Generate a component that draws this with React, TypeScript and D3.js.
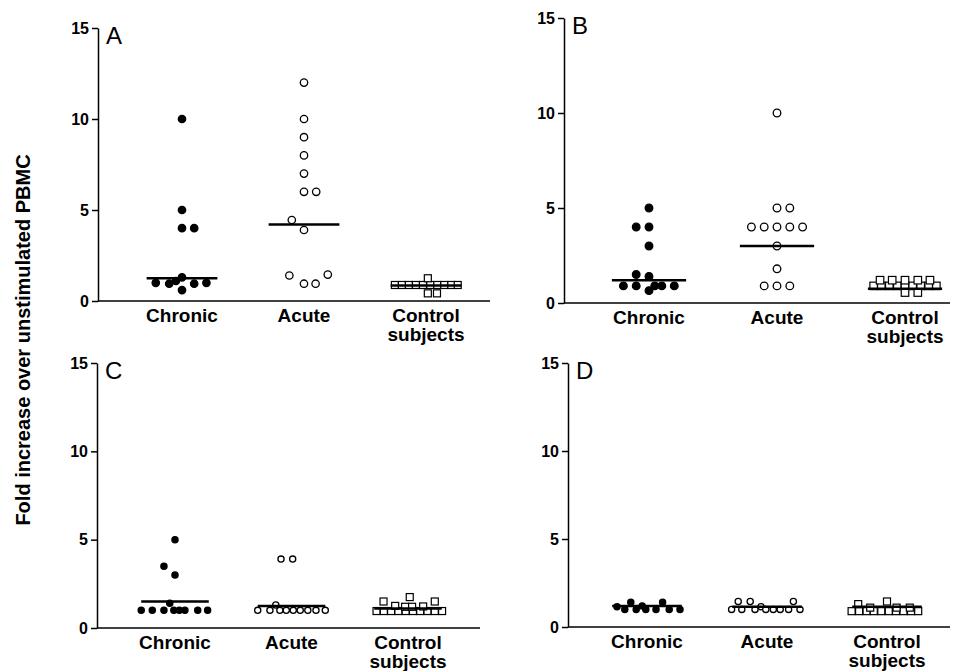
import React, { useRef, useEffect } from 'react'
import * as d3 from 'd3'

// each point: [fold increase, horizontal slot inside the group]
type Pt = [number, number]

const categories = ['Chronic', 'Acute', 'Control subjects']
const yTicks = [0, 5, 10, 15]
const panelNames = ['A', 'B', 'C', 'D']
const yTitle = 'Fold increase over unstimulated PBMC'

// panel A
const aChronic: Pt[] = [
    [10, 0], [5, 0], [4, 0], [4, 2], [1.3, 0], [1.1, -1], [0.95, -2.1],
    [1.0, -4.3], [0.95, 2], [1.0, 4], [0.6, 0],
]
const aAcute: Pt[] = [
    [12, 0], [10, 0], [9, 0], [8, 0], [7, 0], [6, 0], [6, 2], [4.45, -2],
    [3.9, 0], [1.4, -2.4], [1.45, 3.9], [0.95, 0], [0.95, 1.9],
]
const aControl: Pt[] = [
    [0.88, -5.1], [0.88, -3.95], [0.88, -2.8], [0.88, -1.65], [0.88, -0.5],
    [0.88, 0.7], [0.88, 1.85], [0.88, 3], [0.88, 4.15], [0.88, 5.2],
    [1.25, 0.3], [0.42, 0.3], [0.42, 1.8],
]
const aMedians = [1.25, 4.2, 0.85]

// panel B
const bChronic: Pt[] = [
    [5, 0], [4, -2], [4, 0], [3, 0], [1.5, -2], [1.4, 0], [0.9, -4],
    [0.9, -2], [0.9, 0.9], [0.9, 2], [0.9, 3.95], [0.65, 0],
]
const bAcute: Pt[] = [
    [10, 0], [5, 0], [5, 2], [4, -4], [4, -2], [4, 0], [4, 2], [4, 4],
    [3, 0], [1.8, 0], [0.9, -2], [0.9, 0], [0.9, 2],
]
const bControl: Pt[] = [
    [0.9, -4.9], [0.9, -3.7], [0.9, -2.45], [0.9, -1.2], [0.9, 0],
    [0.9, 1.2], [0.9, 2.45], [0.9, 3.7], [0.9, 4.9],
    [1.2, -3.9], [1.2, -2], [1.2, 0], [1.2, 2], [1.2, 3.9],
    [0.55, 0], [0.55, 2],
]
const bMedians = [1.2, 3.0, 0.75]

// panel C
const cChronic: Pt[] = [
    [5, 0], [3.5, -1.9], [3, 0], [1.4, -0.9], [1, -5.8], [1, -3.9],
    [1, -1.9], [1, -0.2], [1, 0.75], [1, 1.7], [1, 3.9], [1, 5.6],
]
const cAcute: Pt[] = [
    [3.9, -1.8], [3.9, 0.2], [1.3, -2.7], [1, -5.8], [1, -3.7], [1, -2],
    [1, -0.9], [1, 0.3], [1, 1.5], [1, 2.8], [1, 4.2], [1, 5.8],
]
const cControl: Pt[] = [
    [0.96, -5.4], [0.96, -4.15], [0.96, -2.9], [0.96, -1.65], [0.96, -0.4],
    [0.96, 0.85], [0.96, 2.1], [0.96, 3.35], [0.96, 4.6], [0.96, 5.85],
    [1.5, -4.2], [1.25, -2.2], [1.2, -0.5], [1.2, 0.7], [1.75, 0.3],
    [1.22, 2.6], [1.5, 4.6],
]
const cMedians = [1.5, 1.25, 1.1]

// panel D
const dChronic: Pt[] = [
    [1.15, -5], [1.0, -3.7], [1.4, -2.7], [1.0, -1.8], [1.2, -0.8],
    [1.0, -0.2], [1.0, 1.5], [1.4, 2.6], [1.0, 3.7], [1.0, 5.5],
]
const dAcute: Pt[] = [
    [1.0, -5.9], [1.45, -4.8], [1.0, -4.2], [1.45, -2.8], [1.0, -2],
    [1.15, -1], [1.0, -0.2], [1.0, 1.05], [1.0, 2.2], [1.0, 3.6],
    [1.45, 4.4], [1.0, 5.5],
]
const dControl: Pt[] = [
    [0.9, -5.9], [0.9, -4.65], [0.9, -3.4], [0.9, -2.2], [0.9, -0.95],
    [0.9, 0.3], [0.9, 1.5], [0.9, 2.75], [0.9, 4], [0.9, 5.2],
    [1.3, -4.8], [1.1, -2.8], [1.45, 0], [1.1, 1.6], [1.1, 3.8],
]
const dMedians = [1.2, 1.15, 1.15]

const panelData = [
    { groups: [aChronic, aAcute, aControl], medians: aMedians },
    { groups: [bChronic, bAcute, bControl], medians: bMedians },
    { groups: [cChronic, cAcute, cControl], medians: cMedians },
    { groups: [dChronic, dAcute, dControl], medians: dMedians },
]

// pixel layout of the four panels
const layout = [
    { axisX: 98, endX: 490, y0: 301, yTop: 28, c0: 182, c2: 426, r: 3.7, sq: 7 },
    { axisX: 564, endX: 950, y0: 303, yTop: 18, c0: 649, c2: 905, r: 3.8, sq: 7.5 },
    { axisX: 97, endX: 480, y0: 628, yTop: 363, c0: 175, c2: 408, r: 3.1, sq: 7 },
    { axisX: 568, endX: 950, y0: 627, yTop: 363, c0: 647, c2: 887, r: 3.1, sq: 7 },
]

const FONT = '"Liberation Sans", Arial, Helvetica, sans-serif'

export default function App() {
    const svgRef = useRef<SVGSVGElement>(null)

    useEffect(() => {
        const svg = d3.select(svgRef.current)
        svg.selectAll('*').remove()

        svg.append('text')
            .attr('transform', 'translate(30,340) rotate(-90)')
            .attr('text-anchor', 'middle')
            .attr('font-family', FONT)
            .attr('font-weight', 'bold')
            .attr('font-size', 20)
            .text(yTitle)

        layout.forEach((L, i) => {
            const P = panelData[i]
            const g = svg.append('g')

            const y = d3.scaleLinear().domain([0, 15]).range([L.y0, L.yTop])
            const x = d3.scalePoint<string>().domain(categories).range([L.c0, L.c2])
            const unit = x.step() * 0.05
            const jx = d3.scaleLinear().domain([0, 1]).range([0, unit])

            // y axis
            const yAxis = d3.axisLeft(y).tickValues(yTicks).tickSize(6).tickSizeOuter(0).tickPadding(3)
            const ya = g.append('g').attr('transform', `translate(${L.axisX},0)`).call(yAxis)
            ya.selectAll('path,line').attr('stroke', '#000').attr('stroke-width', 1.5)
            ya.selectAll('text')
                .attr('fill', '#000')
                .attr('font-family', FONT)
                .attr('font-size', 16)
                .attr('font-weight', 'bold')

            // x axis line
            g.append('line')
                .attr('x1', L.axisX)
                .attr('x2', L.endX)
                .attr('y1', L.y0)
                .attr('y2', L.y0)
                .attr('stroke', '#000')
                .attr('stroke-width', 1.5)

            // panel letter
            g.append('text')
                .attr('x', L.axisX + 8)
                .attr('y', L.yTop + 16)
                .attr('font-family', FONT)
                .attr('font-size', 24)
                .text(panelNames[i])

            // category labels
            categories.forEach((c) => {
                const t = g.append('text')
                    .attr('text-anchor', 'middle')
                    .attr('font-family', FONT)
                    .attr('font-weight', 'bold')
                    .attr('font-size', 19)
                c.split(' ').forEach((w, k) => {
                    t.append('tspan')
                        .attr('x', x(c)!)
                        .attr('y', L.y0 + 21 + k * 19)
                        .text(w)
                })
            })

            // points
            P.groups.forEach((pts, gi) => {
                const cx = x(categories[gi])!
                if (gi === 2) {
                    g.selectAll(null)
                        .data(pts)
                        .enter()
                        .append('rect')
                        .attr('x', (d) => cx + jx(d[1]) - L.sq / 2)
                        .attr('y', (d) => y(d[0]) - L.sq / 2)
                        .attr('width', L.sq)
                        .attr('height', L.sq)
                        .attr('fill', '#fff')
                        .attr('stroke', '#000')
                        .attr('stroke-width', 1.2)
                } else {
                    g.selectAll(null)
                        .data(pts)
                        .enter()
                        .append('circle')
                        .attr('cx', (d) => cx + jx(d[1]))
                        .attr('cy', (d) => y(d[0]))
                        .attr('r', L.r)
                        .attr('fill', gi === 0 ? '#000' : '#fff')
                        .attr('stroke', '#000')
                        .attr('stroke-width', 1.3)
                }
            })

            // median lines
            const half = x.step() * 0.29
            g.selectAll(null)
                .data(P.medians)
                .enter()
                .append('line')
                .attr('x1', (d, k) => x(categories[k])! - half)
                .attr('x2', (d, k) => x(categories[k])! + half)
                .attr('y1', (d) => y(d))
                .attr('y2', (d) => y(d))
                .attr('stroke', '#000')
                .attr('stroke-width', 2.5)
        })
    }, [])

    return (
        <svg
            ref={svgRef}
            width={956}
            height={671}
            style={{ position: 'absolute', left: 0, top: 0, background: '#fff' }}
        />
    )
}
